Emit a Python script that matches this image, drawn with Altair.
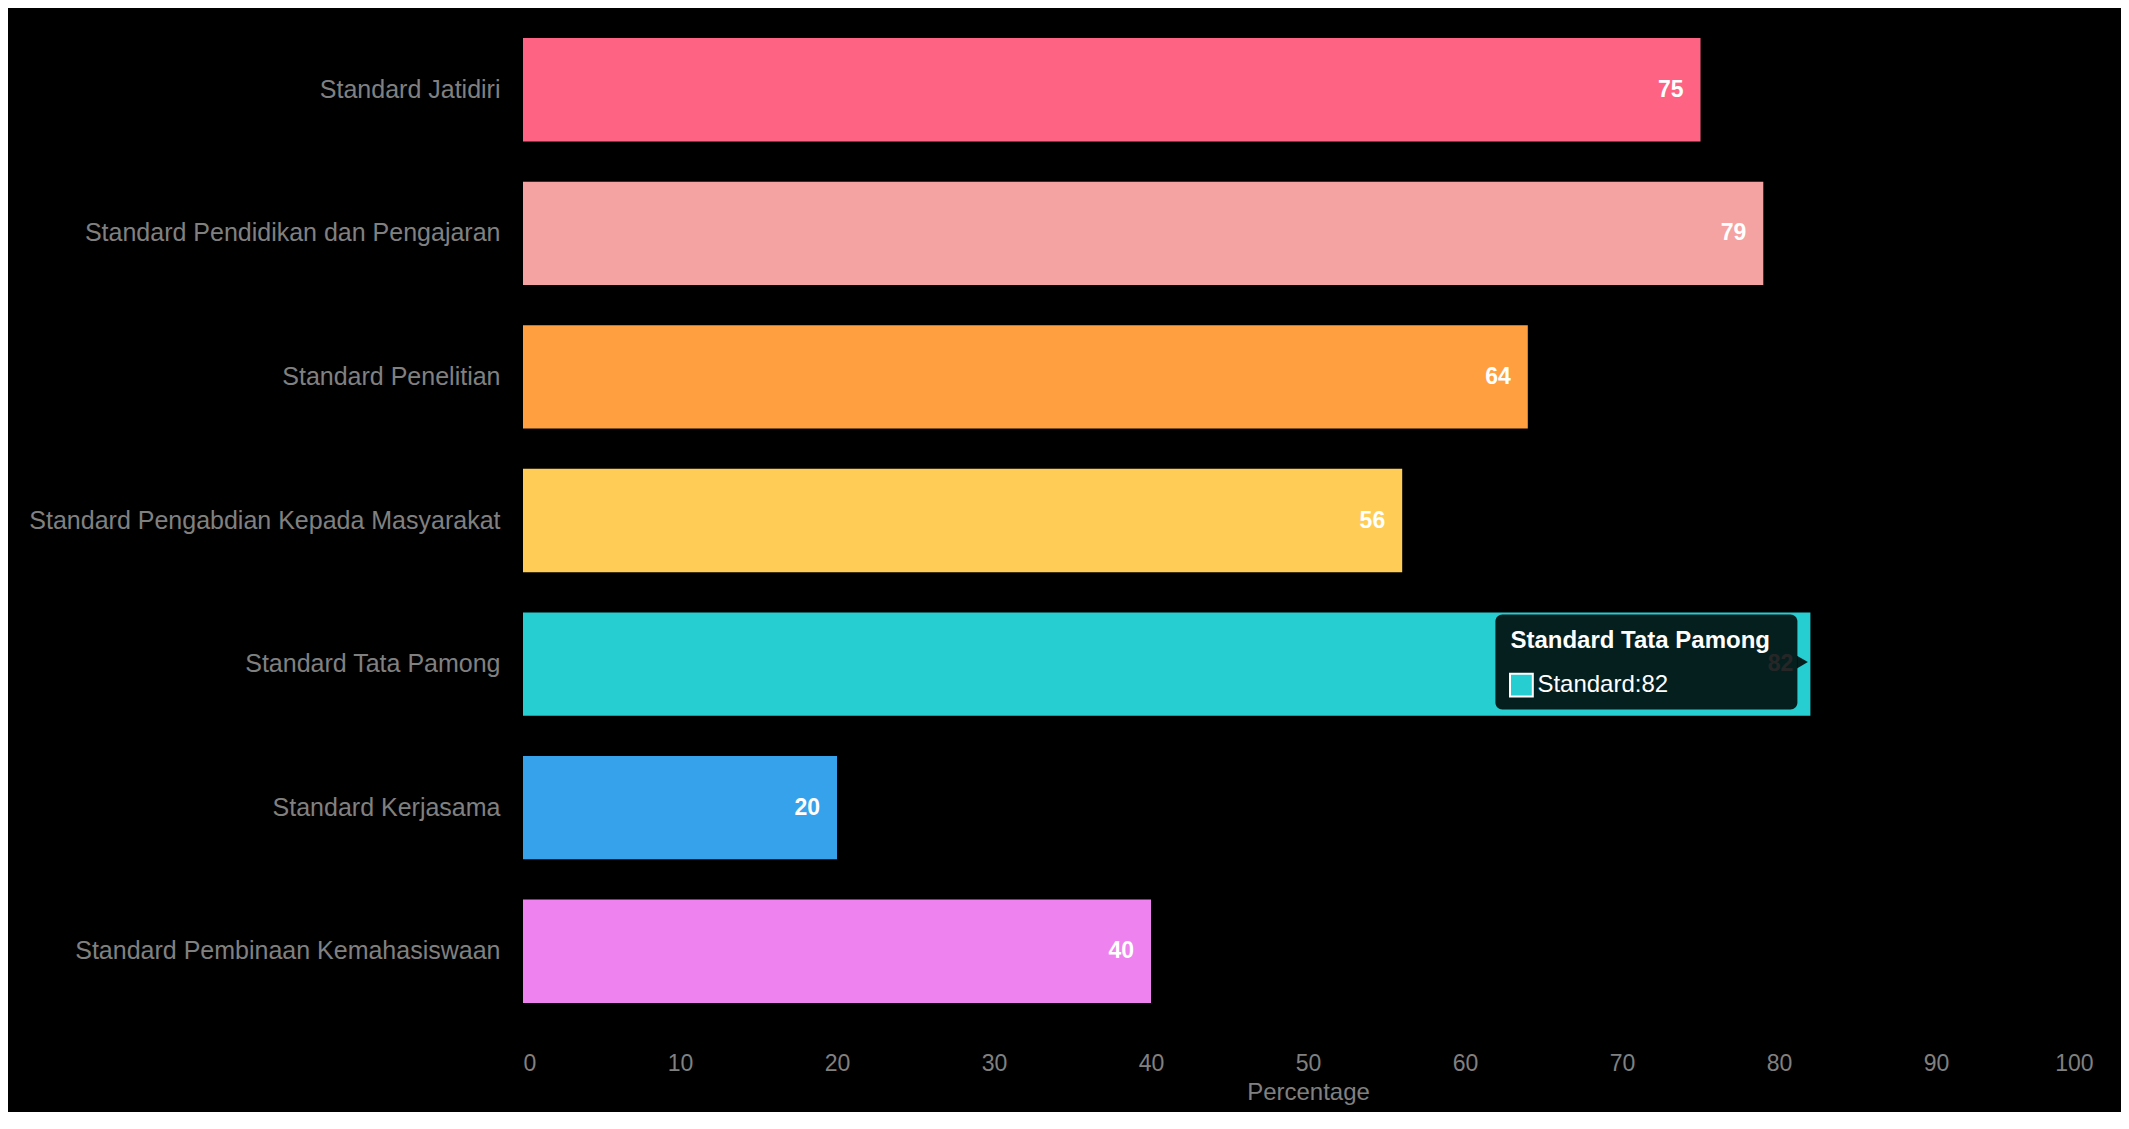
import altair as alt
import pandas as pd

categories = [
    "Standard Jatidiri",
    "Standard Pendidikan dan Pengajaran",
    "Standard Penelitian",
    "Standard Pengabdian Kepada Masyarakat",
    "Standard Tata Pamong",
    "Standard Kerjasama",
    "Standard Pembinaan Kemahasiswaan",
]
values = [75, 79, 64, 56, 82, 20, 40]
colors = ["#ff6384", "#f4a2a2", "#ff9f40", "#ffcd56", "#26cdd1", "#36a2eb", "#ee82ee"]
x_ticks = [0, 10, 20, 30, 40, 50, 60, 70, 80, 90, 100]
x_title = "Percentage"
tooltip_category = "Standard Tata Pamong"
tooltip_series = "Standard"

FONT = "Liberation Sans"
GRAY = "#808080"

df = pd.DataFrame({"category": categories, "value": values, "color": colors})
tip = df[df["category"] == tooltip_category].copy()

y_enc = alt.Y(
    "category:N",
    sort=categories,
    scale=alt.Scale(paddingInner=0.28, paddingOuter=0.14),
    axis=alt.Axis(
        title=None, labelFont=FONT, labelFontSize=25, labelColor=GRAY,
        labelPadding=23, ticks=False, tickSize=0, domain=False, labelLimit=700,
    ),
)
x_enc = alt.X(
    "value:Q",
    scale=alt.Scale(domain=[0, 100], nice=False),
    axis=alt.Axis(
        values=x_ticks, title=x_title, grid=False, ticks=False, tickSize=0,
        domain=False, labelFont=FONT, labelFontSize=23, labelColor=GRAY,
        labelPadding=29, titleFont=FONT, titleFontSize=24, titleColor=GRAY,
        titleFontWeight="normal", titlePadding=5,
    ),
)

base = alt.Chart(df)
bars = base.mark_bar().encode(
    x=x_enc, y=y_enc, color=alt.Color("color:N", scale=None)
)
labels = base.mark_text(
    align="right", baseline="middle", dx=-17, color="white",
    font=FONT, fontSize=23, fontWeight="bold",
).encode(x="value:Q", y=alt.Y("category:N", sort=categories), text="value:Q")

tbase = alt.Chart(tip).transform_calculate(
    tiptext=f"'{tooltip_series}:' + datum.value"
)
tip_box = tbase.mark_bar(
    size=95, cornerRadius=7, color="black", opacity=0.85,
    xOffset=-315, x2Offset=-13, yOffset=-2,
).encode(x="value:Q", x2="value:Q", y=alt.Y("category:N", sort=categories))
tip_caret = tbase.mark_point(
    shape="triangle-right", filled=True, size=160, color="black",
    opacity=0.85, xOffset=-8, yOffset=-2, strokeWidth=0,
).encode(x="value:Q", y=alt.Y("category:N", sort=categories))
tip_title = tbase.mark_text(
    align="left", baseline="middle", dx=-300, dy=-23, color="white",
    font=FONT, fontSize=24, fontWeight="bold",
).encode(x="value:Q", y=alt.Y("category:N", sort=categories), text="category:N")
tip_swatch = tbase.mark_square(
    size=520, stroke="white", strokeWidth=2, opacity=1, xOffset=-289, yOffset=21,
).encode(
    x="value:Q", y=alt.Y("category:N", sort=categories),
    fill=alt.Fill("color:N", scale=None),
)
tip_text = tbase.mark_text(
    align="left", baseline="middle", dx=-273, dy=21, color="white",
    font=FONT, fontSize=24,
).encode(x="value:Q", y=alt.Y("category:N", sort=categories), text="tiptext:N")

chart = alt.layer(
    bars, labels, tip_box, tip_caret, tip_title, tip_swatch, tip_text
).properties(
    width=1570,
    height=1005,
    background="black",
    padding={"left": 515, "top": 10, "right": 28, "bottom": 89},
    autosize=alt.AutoSizeParams(type="none"),
).configure_view(stroke=None)

chart.save("out.html", embed_options={"renderer": "svg", "actions": False})
